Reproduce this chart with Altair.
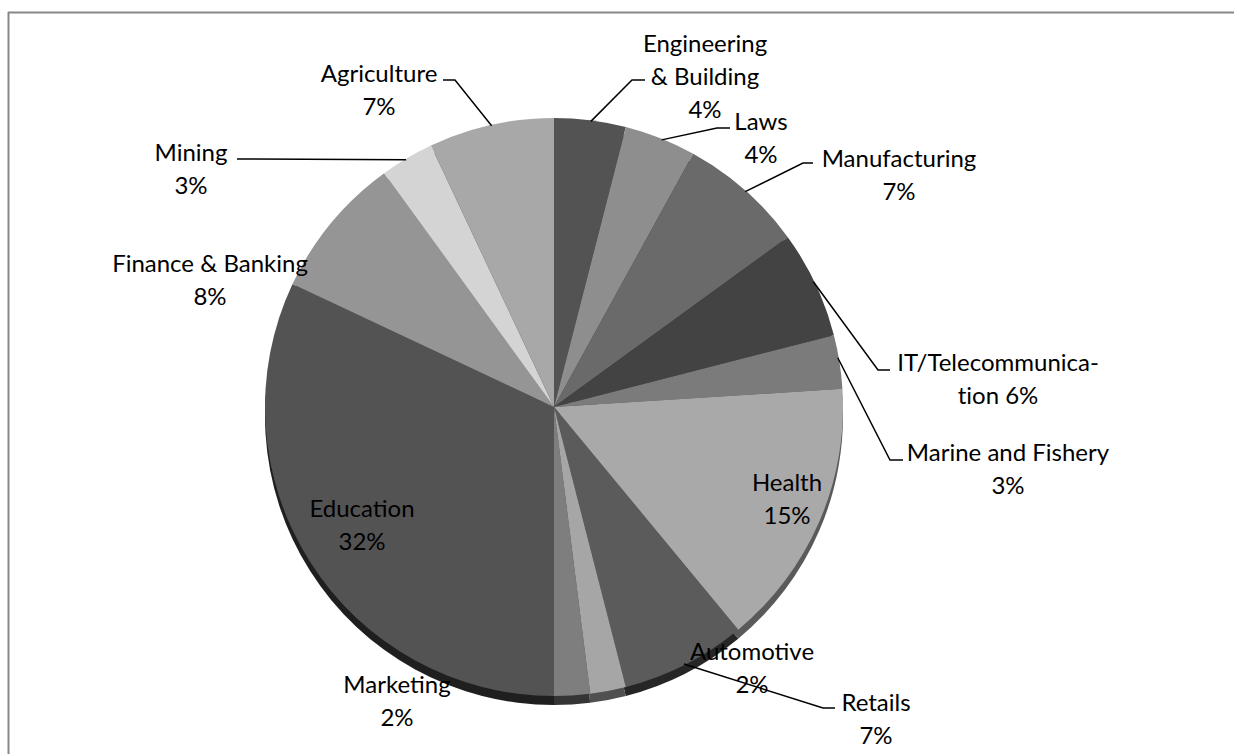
import math
import altair as alt
import pandas as pd

# ---- data ----
categories = ["Engineering & Building", "Laws", "Manufacturing", "IT/Telecommunication",
              "Marine and Fishery", "Health", "Retails", "Automotive", "Marketing",
              "Education", "Finance & Banking", "Mining", "Agriculture"]
shares = [4, 4, 7, 6, 3, 15, 7, 2, 2, 32, 8, 3, 7]
label_lines = [["Engineering", "& Building", "4%"], ["Laws", "4%"], ["Manufacturing", "7%"],
               ["IT/Telecommunica-", "t\u200cion 6%"], ["Marine and Fishery", "3%"], ["Health", "15%"],
               ["Retails", "7%"], ["Automotive", "2%"], ["Marketing", "2%"], ["Education", "32%"],
               ["Finance & Banking", "8%"], ["Mining", "3%"], ["Agriculture", "7%"]]

# ---- styles / layout ----
face_colors = ["#535353", "#8e8e8e", "#6a6a6a", "#434343", "#7b7b7b", "#a9a9a9", "#5b5b5b",
               "#a6a6a6", "#7e7e7e", "#535353", "#959595", "#d4d4d4", "#a8a8a8"]
edge_colors = ["#232323", "#3c3c3c", "#2d2d2d", "#1c1c1c", "#343434", "#5a5a5a", "#262626",
               "#505050", "#353535", "#1f1f1f", "#404040", "#5a5a5a", "#474747"]
W, H = 1234, 754
CX, CY, R, DEPTH = 554, 407, 289, 9
label_x = [705, 761, 899, 998, 1008, 787, 876, 752, 397, 362, 210, 191, 379]
label_y0 = [43, 121, 158, 362, 452, 482, 702, 651, 684, 508, 263, 152, 73]
LINE_H = 33
# leader lines: reference point on pie edge, elbow, end
leaders = [
    [(590, 128), (632, 80), (645, 80)],
    [(660, 144), (717, 128), (730, 128)],
    [(745, 192), (803, 163), (813, 163)],
    [(817, 280), (878, 370), (890, 370)],
    [(842, 357), (890, 460), (903, 460)],
    [(688, 672), (823, 708), (835, 708)],
    [(493, 132), (455, 80), (443, 80)],
    [(408, 163), (250, 159), (237, 159)],
]

# ---- tables ----
pie_df = pd.DataFrame({"cat": categories, "share": shares, "idx": list(range(len(shares))),
                       "face": face_colors, "edge": edge_colors})

text_rows = []
for i, lines in enumerate(label_lines):
    for j, t in enumerate(lines):
        text_rows.append({"t": t, "x": label_x[i], "y": label_y0[i] + j * LINE_H + 9})
text_df = pd.DataFrame(text_rows)

line_rows = []
for k, pts in enumerate(leaders):
    sx, sy = pts[0]
    ang = math.atan2(sy - CY, sx - CX)
    pts = [(CX + (R - 1) * math.cos(ang), CY + (R - 1) * math.sin(ang))] + pts[1:]
    for o, (px, py) in enumerate(pts):
        line_rows.append({"id": k, "o": o, "x": px, "y": py})
line_df = pd.DataFrame(line_rows)

xs = alt.Scale(domain=[0, W], range=[0, W])
ys = alt.Scale(domain=[0, H], range=[0, H])

frame_top = alt.Chart(pd.DataFrame({"a": [0]})).mark_rule(color="#888888", strokeWidth=2).encode(
    x=alt.value(8), x2=alt.value(W), y=alt.value(12.5))
frame_left = alt.Chart(pd.DataFrame({"a": [0]})).mark_rule(color="#888888", strokeWidth=2).encode(
    x=alt.value(8.5), y=alt.value(12), y2=alt.value(H))

edge = alt.Chart(pie_df).mark_arc(outerRadius=R).encode(
    theta=alt.Theta("share:Q", stack=True),
    order=alt.Order("idx:Q", sort="ascending"),
    color=alt.Color("edge:N", scale=None),
    x=alt.value(CX), y=alt.value(CY + DEPTH))

face = alt.Chart(pie_df).mark_arc(outerRadius=R).encode(
    theta=alt.Theta("share:Q", stack=True),
    order=alt.Order("idx:Q", sort="ascending"),
    color=alt.Color("face:N", scale=None),
    x=alt.value(CX), y=alt.value(CY))

lead = alt.Chart(line_df).mark_line(color="#000000", strokeWidth=1.5).encode(
    x=alt.X("x:Q", scale=xs, axis=None),
    y=alt.Y("y:Q", scale=ys, axis=None),
    detail="id:N", order="o:Q")

text = alt.Chart(text_df).mark_text(font="Lato", fontSize=24, color="#000000",
                                    align="center", baseline="alphabetic").encode(
    x=alt.X("x:Q", scale=xs, axis=None),
    y=alt.Y("y:Q", scale=ys, axis=None),
    text="t:N")

chart = alt.layer(frame_top, frame_left, edge, face, lead, text).properties(
    width=W, height=H, padding=0, autosize="none", background="#ffffff"
).configure_view(stroke=None)

chart.save("out.html", embed_options={"renderer": "svg", "actions": False})
